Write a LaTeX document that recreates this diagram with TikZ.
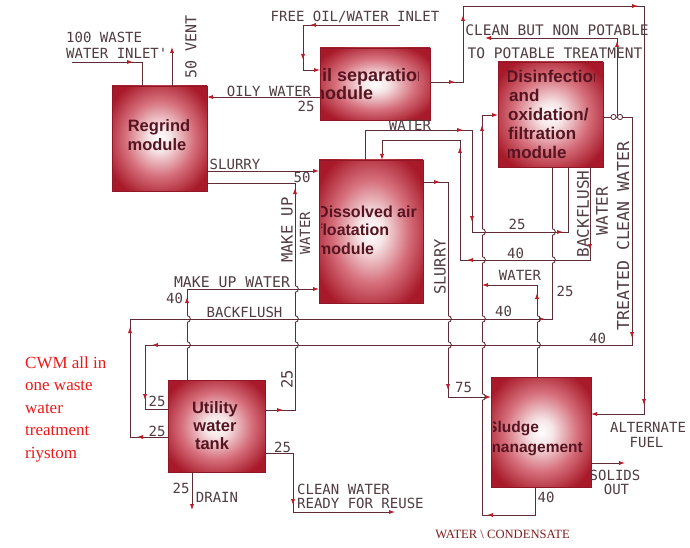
\documentclass[tikz,border=0pt]{standalone}
\usepackage{fontspec}
\setmainfont{Liberation Serif}
\setsansfont{Liberation Sans}
\setmonofont{DejaVu Sans Mono}
\usetikzlibrary{arrows.meta,decorations.markings}
\definecolor{lnc}{RGB}{95,45,55}
\definecolor{arrc}{RGB}{185,30,42}
\definecolor{lbc}{RGB}{80,60,65}
\definecolor{boxred}{RGB}{168,26,42}
\definecolor{boxmid}{RGB}{214,112,124}
\definecolor{boxin}{RGB}{246,228,230}
\definecolor{boxedge}{RGB}{145,22,38}
\definecolor{bxtxt}{RGB}{85,20,32}
\definecolor{notered}{RGB}{235,25,25}
\definecolor{condc}{RGB}{125,30,30}
\pgfdeclareradialshading{boxsh}{\pgfpoint{0bp}{0bp}}{color(0bp)=(white);color(6bp)=(boxin);color(18bp)=(boxmid);color(30bp)=(boxred);color(50bp)=(boxred)}
\tikzset{
 ln/.style={draw=lnc, line width=0.85pt},
 ar/.style={postaction={decorate,decoration={markings,mark=at position #1 with {\arrow{>}}}}},
 box/.style={shade, shading=boxsh, draw=boxedge, line width=0.8pt, inner sep=0pt, outer sep=0pt},
 bx/.style={font=\sffamily\bfseries\fontsize{#1}{#1}\selectfont, text=bxtxt, inner sep=0pt, anchor=base west},
 lb/.style={font=\ttfamily\fontsize{14}{14}\selectfont, text=lbc, inner sep=0pt},
 vlb/.style={font=\ttfamily\fontsize{15.5}{15.5}\selectfont, text=lbc, inner sep=0pt, rotate=90},
 hop/.pic={
   \fill[white] (-1.4pt,-3.4pt) rectangle (1.4pt,3.4pt);
   \draw[ln] (-2pt,0pt) -- (2pt,0pt);
   \draw[ln] (0pt,3.4pt) arc[start angle=90,end angle=-90,radius=3.4pt];
 }
}
\begin{document}
\begin{tikzpicture}[x=1pt, y=-1pt, >={Latex[length=6pt,width=4.2pt,color=arrc]}]
\useasboundingbox (0,0) rectangle (690,548);
\fill[white] (0,0) rectangle (690,548);

% boxes
\node[box, minimum width=95pt, minimum height=105pt] (R) at (159.5,138.5) {};
\node[box, minimum width=110pt, minimum height=72pt] (O) at (375,84) {};
\node[box, minimum width=105pt, minimum height=105pt] (D) at (550.5,114.5) {};
\node[box, minimum width=104pt, minimum height=143pt] (F) at (371,231.5) {};
\node[box, minimum width=97pt, minimum height=92pt] (U) at (216.5,426) {};
\node[box, minimum width=100pt, minimum height=110pt] (S) at (541,432) {};

% box texts
\node[bx=16.5, anchor=base] (Rt1) at (159,132) {Regrind};
\node[bx=16.5, anchor=base] (Rt2) at (157,151) {module};
\begin{scope}
\clip (321,48) rectangle (418,120);
\node[bx=18] (Ot1) at (308,82) {Oil separation};
\node[bx=18] (Ot2) at (309,100) {module};
\end{scope}
\begin{scope}
\clip (508,62) rectangle (594,167);
\node[bx=17] (Dt1) at (506,83) {Disinfection};
\node[bx=17] (Dt2) at (509,102) {and};
\node[bx=17] (Dt3) at (508,121) {oxidation/};
\node[bx=17] (Dt4) at (508,140) {filtration};
\node[bx=17] (Dt5) at (506,159) {module};
\end{scope}
\begin{scope}
\clip (321,160) rectangle (423,303);
\node[bx=16] (Ft1) at (317,217) {Dissolved air};
\node[bx=16] (Ft2) at (317,235.5) {floatation};
\node[bx=16] (Ft3) at (317,254) {module};
\end{scope}
\node[bx=16.5, anchor=base] (Ut1) at (215,413) {Utility};
\node[bx=16.5, anchor=base] (Ut2) at (215,431) {water};
\node[bx=16.5, anchor=base] (Ut3) at (212,449) {tank};
\begin{scope}
\clip (493,377) rectangle (588,487);
\node[bx=15.5] (St1) at (487,432) {Sludge};
\node[bx=15.5] (St2) at (487,452) {management};
\end{scope}

% free ends
\coordinate (win) at (72,62);
\coordinate (vent) at (172,47);
\coordinate (foi) at (400,25);
\coordinate (valve) at (617,117);
\coordinate (cbnp) at (485,38);
\coordinate (j1) at (482,285);
\coordinate (cw) at (395,512);
\coordinate (drain) at (192,510);
\coordinate (solids) at (625,463);

% connectors
\draw[ln, ar=61pt] (win) -| (R.north -| 142,0);
\draw[ln, ->] (R.north -| 172,0) -- (vent);
\draw[ln, ar=90pt, ar=132pt, ->] (foi) -- (303,25) -- (303,70) -- (O.west |- 0,70);
\draw[ln, ->] (O.west |- 0,97) -- (R.east |- 0,97);
\draw[ln, ar=25pt, ar=100pt, ar=284pt, ar=689pt, ->] (O.east |- 0,82) -- (463,82) -- (463,6) -- (644,6) -- (644,414) -- (S.east |- 0,414);
\draw[ln, ar=76pt, ->] (valve) -- (617,38) -- (cbnp);
\draw[ln, ar=250pt, ar=737pt, ar=799pt] (D.east |- 0,117) -- (632,117) -- (632,345) -- (145,345) -- (145,409) -- (U.west |- 0,409);
\draw[ln, ar=31pt, ar=148pt, ar=571pt] (U.west |- 0,437) -- (130,437) -- (130,319) -- (552,319) -- (D.south -| 552,0);
\draw[ln, ar=128pt, ar=229pt, ar=330pt] (F.north -| 365,0) -- (365,130) -- (472,130) -- (472,232) -- (568,232) -- (D.south -| 568,0);
\draw[ln, ar=83pt, ar=216pt, ar=336pt, ->] (D.south -| 590,0) -- (590,260) -- (460,260) -- (460,140) -- (382,140) -- (F.north -| 382,0);
\draw[ln, ar=17pt, ar=233pt, ->] (F.east |- 0,182) -- (448,182) -- (448,397) -- (S.west |- 0,397);
\draw[ln, ar=76pt, ar=471pt, ->] (S.south -| 535,0) -- (535,515) -- (482,515) -- (482,115) -- (D.west |- 0,115);
\draw[ln, ar=84pt, ->] (S.north -| 537,0) -- (537,285) -- (j1);
\draw[ln, ar=83pt, ->] (U.north -| 187,0) -- (187,289) -- (F.west |- 0,289);
\draw[ln, ar=18pt, ar=252pt] (U.east |- 0,410) -- (295,410) -- (295,183) -- (R.east |- 0,183);
\draw[ln, ->] (R.east |- 0,171) -- (F.west |- 0,171);
\draw[ln, ar=80pt, ->] (U.east |- 0,453) -- (293,453) -- (293,512) -- (cw);
\draw[ln, ->] (U.south -| 192,0) -- (drain);
\draw[ln, ->] (S.east |- 0,463) -- (solids);

% valve
\draw[ln, fill=white] ([xshift=-3.5pt]valve) circle[radius=2.6pt];
\draw[ln, fill=white] ([xshift=3pt]valve) circle[radius=2.6pt];

% line hops
\foreach \hx/\hy in {187/319,187/345,295/289,295/319,295/345,448/319,448/345,482/232,482/260,482/319,482/345,482/397,537/319,537/345,552/232,552/260}
  \pic at (\hx,\hy) {hop};

% labels
\node[lb, anchor=west] (t1) at (66,37.5) {100 WASTE};
\node[lb, anchor=west] (t2) at (66,53) {WATER INLET'};
\node[vlb, font=\ttfamily\fontsize{15}{15}\selectfont] (t3) at (191,47) {50 VENT};
\node[lb] (t4) at (355,17) {FREE OIL/WATER INLET};
\node[lb] (t5) at (269,91.5) {OILY WATER};
\node[lb] (t6) at (306,106.5) {25};
\node[lb] (t7) at (235,164.5) {SLURRY};
\node[lb] (t8) at (302,177.5) {50};
\node[lb] (t9) at (410,125) {WATER};
\node[lb, font=\ttfamily\fontsize{14.5}{14.5}\selectfont] (t10) at (557,30) {CLEAN BUT NON POTABLE};
\node[lb, font=\ttfamily\fontsize{14.5}{14.5}\selectfont] (t11) at (555,53.5) {TO POTABLE TREATMENT};
\node[vlb] (t12) at (287,230) {MAKE UP};
\node[vlb, font=\ttfamily\fontsize{14}{14}\selectfont] (t13) at (305,233) {WATER};
\node[lb, font=\ttfamily\fontsize{14.8}{14.8}\selectfont] (t14) at (232,282) {MAKE UP WATER};
\node[lb] (t15) at (174.5,298) {40};
\node[lb] (t16) at (244.5,312) {BACKFLUSH};
\node[vlb] (t17) at (287,379.5) {25};
\node[lb] (t18) at (157,401) {25};
\node[lb] (t19) at (157,431.5) {25};
\node[lb] (t20) at (282.5,447) {25};
\node[lb] (t21) at (181,488) {25};
\node[lb] (t22) at (217,497) {DRAIN};
\node[lb, anchor=west] (t23) at (297,489) {CLEAN WATER};
\node[lb, anchor=west] (t24) at (297,503.5) {READY FOR REUSE};
\node[vlb] (t25) at (440,267) {SLURRY};
\node[lb] (t26) at (463.5,387.5) {75};
\node[lb] (t27) at (517,224) {25};
\node[lb] (t28) at (515.5,253.5) {40};
\node[lb] (t29) at (520,275) {WATER};
\node[lb] (t30) at (565,291.5) {25};
\node[lb] (t31) at (503.5,311.5) {40};
\node[lb] (t32) at (597.5,338) {40};
\node[vlb, font=\ttfamily\fontsize{16}{16}\selectfont] (t33) at (583,214) {BACKFLUSH};
\node[vlb, font=\ttfamily\fontsize{16}{16}\selectfont] (t34) at (602,211) {WATER};
\node[vlb, font=\ttfamily\fontsize{16.5}{16.5}\selectfont] (t35) at (623,236) {TREATED CLEAN WATER};
\node[lb] (t36) at (648,427) {ALTERNATE};
\node[lb] (t37) at (646.5,442) {FUEL};
\node[lb] (t38) at (615,475.5) {SOLIDS};
\node[lb] (t39) at (616.5,489.5) {OUT};
\node[lb] (t40) at (546,497) {40};

% red notes
\node[anchor=north west, align=left, inner sep=0pt, text=notered, font=\rmfamily\fontsize{17}{22.5}\selectfont] (note) at (25,356.5) {CWM all in\\one waste\\water\\treatment\\riystom};
\node[inner sep=0pt, text=condc, font=\rmfamily\fontsize{12.6}{12.6}\selectfont] (cond) at (502.5,534) {WATER \textbackslash{} CONDENSATE};
\end{tikzpicture}
\end{document}
